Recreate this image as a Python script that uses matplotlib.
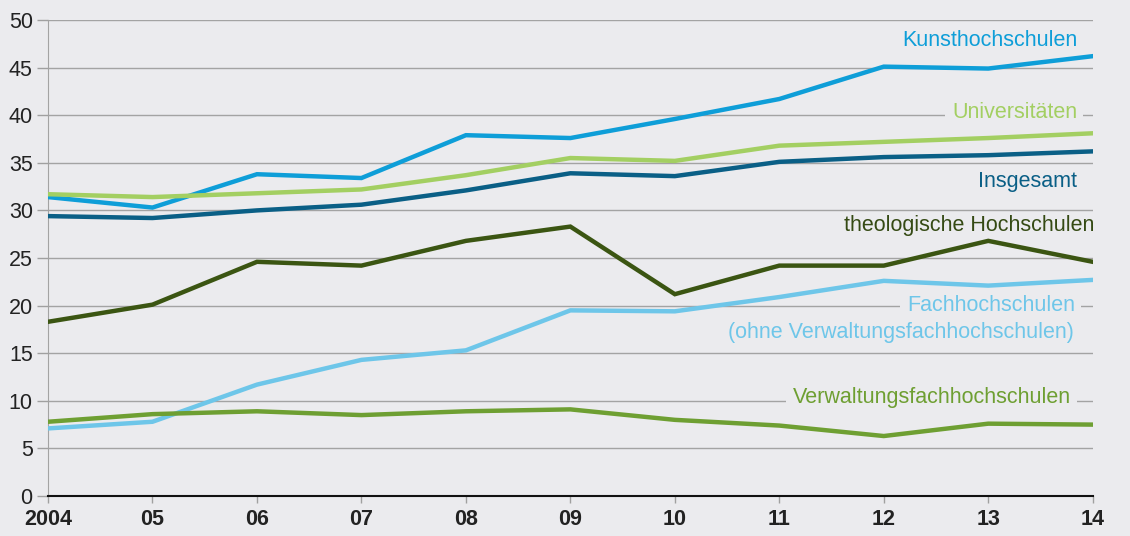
import matplotlib.pyplot as plt

# years and tick labels
years = [2004, 2005, 2006, 2007, 2008, 2009, 2010, 2011, 2012, 2013, 2014]
year_labels = ['2004', '05', '06', '07', '08', '09', '10', '11', '12', '13', '14']

# values
kunst = [31.4, 30.3, 33.8, 33.4, 37.9, 37.6, 39.6, 41.7, 45.1, 44.9, 46.2]
uni = [31.7, 31.4, 31.8, 32.2, 33.7, 35.5, 35.2, 36.8, 37.2, 37.6, 38.1]
gesamt = [29.4, 29.2, 30.0, 30.6, 32.1, 33.9, 33.6, 35.1, 35.6, 35.8, 36.2]
theo = [18.3, 20.1, 24.6, 24.2, 26.8, 28.3, 21.2, 24.2, 24.2, 26.8, 24.6]
fh = [7.1, 7.8, 11.7, 14.3, 15.3, 19.5, 19.4, 20.9, 22.6, 22.1, 22.7]
verw = [7.8, 8.6, 8.9, 8.5, 8.9, 9.1, 8.0, 7.4, 6.3, 7.6, 7.5]

bg = '#ebebee'
plt.rcParams['font.family'] = ['Liberation Sans', 'DejaVu Sans']

fig = plt.figure(figsize=(11.3, 5.36), dpi=100, facecolor=bg)
ax = fig.add_axes([0.0425, 0.0746, 0.9245, 0.8881], facecolor=bg)

# data, line colour, label, label y, label right edge, label colour, box over grid
series = [
    (kunst, '#0e9ed8', 'Kunsthochschulen', 47.8, 2013.85, '#0e9ed8', False),
    (uni, '#a3cf62', 'Universitäten', 40.3, 2013.85, '#a3cf62', True),
    (gesamt, '#0a5f86', 'Insgesamt', 33.0, 2013.85, '#0a5f86', False),
    (theo, '#3b5512', 'theologische Hochschulen', 28.4, 2014.02, '#354a14', False),
    (fh, '#6ec6e9', 'Fachhochschulen', 20.0, 2013.83, '#6ec6e9', True),
    (verw, '#6e9f32', 'Verwaltungsfachhochschulen', 10.3, 2013.79, '#6e9f32', True),
]

for vals, col, name, ly, lx, tc, boxed in series:
    ax.plot(years, vals, color=col, lw=3.2, solid_joinstyle='miter', zorder=3)
    box = dict(facecolor=bg, edgecolor='none', boxstyle='square,pad=0.3') if boxed else None
    ax.text(lx, ly, name, color=tc, fontsize=15.5, ha='right', va='center', zorder=2, bbox=box)

ax.text(2013.82, 17.2, '(ohne Verwaltungsfachhochschulen)', color='#6ec6e9', fontsize=15.5,
        ha='right', va='center', zorder=2)

ax.set_xlim(2004, 2014)
ax.set_ylim(0, 50)
ax.set_yticks(range(0, 51, 5))
ax.set_xticks(years)
ax.set_xticklabels(year_labels, fontweight='bold', fontsize=15.5)
ax.tick_params(axis='y', labelsize=15.5, colors='#a0a0a0', labelcolor='#222222', length=8, width=1, pad=3)
ax.tick_params(axis='x', colors='#a0a0a0', labelcolor='#222222', length=5, width=1, pad=4)

ax.grid(axis='y', color='#a3a3a3', lw=1, zorder=1)
for s in ['top', 'right']:
    ax.spines[s].set_visible(False)
ax.spines['left'].set_color('#a3a3a3')
ax.spines['bottom'].set_color('#111111')
ax.spines['bottom'].set_linewidth(1.5)
ax.spines['bottom'].set_zorder(4)

fig.savefig('out.png', dpi=100, facecolor=bg)
